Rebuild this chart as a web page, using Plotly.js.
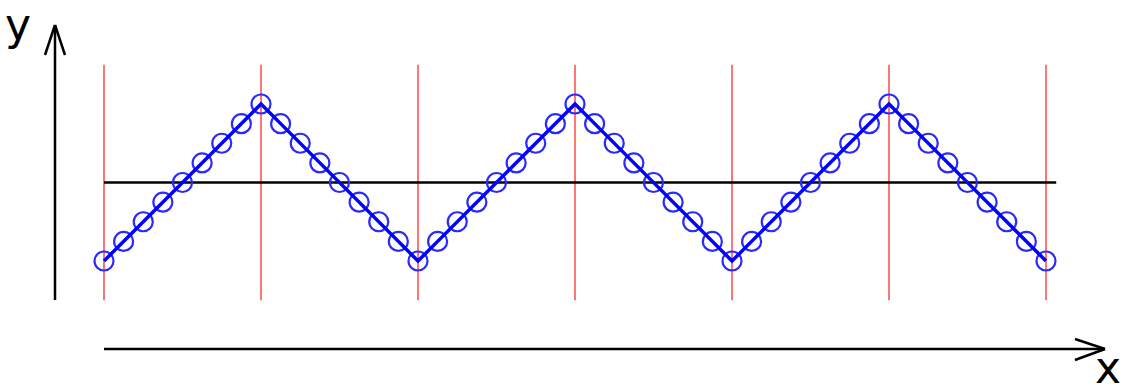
<!DOCTYPE html>
<html>
<head>
<meta charset="utf-8">
<script src="https://cdn.plot.ly/plotly-3.0.1.min.js"></script>
<style>html,body{margin:0;padding:0;background:#fff;}#chart{width:1123px;height:389px;}</style>
</head>
<body>
<div id="chart"></div>
<script>
// Sample positions and triangle-wave values
var xValues = [0,0.125,0.25,0.375,0.5,0.625,0.75,0.875,1,
  1.125,1.25,1.375,1.5,1.625,1.75,1.875,2,
  2.125,2.25,2.375,2.5,2.625,2.75,2.875,3,
  3.125,3.25,3.375,3.5,3.625,3.75,3.875,4,
  4.125,4.25,4.375,4.5,4.625,4.75,4.875,5,
  5.125,5.25,5.375,5.5,5.625,5.75,5.875,6];
var yValues = [-1,-0.75,-0.5,-0.25,0,0.25,0.5,0.75,1,
  0.75,0.5,0.25,0,-0.25,-0.5,-0.75,-1,
  -0.75,-0.5,-0.25,0,0.25,0.5,0.75,1,
  0.75,0.5,0.25,0,-0.25,-0.5,-0.75,-1,
  -0.75,-0.5,-0.25,0,0.25,0.5,0.75,1,
  0.75,0.5,0.25,0,-0.25,-0.5,-0.75,-1];
var gridX = [0,1,2,3,4,5,6];
var gridYRange = [-1.5, 1.5];
var meanLevel = 0;
var meanXRange = [0, 6.065];

// pixel -> data helpers for decorative arrows (axis ranges chosen to fill window)
var xr = [-104/157, (1123-104)/157];
var yr = [(182.5-389)/78.5, 182.5/78.5];
function px(x){return (x-104)/157;}
function py(y){return (182.5-y)/78.5;}

var shapes = [];
gridX.forEach(function(gx){
  shapes.push({type:'line', xref:'x', yref:'y', x0:gx, x1:gx, y0:gridYRange[0], y1:gridYRange[1],
    line:{color:'#ff1a1a', width:1.2}, layer:'below'});
});
shapes.push({type:'line', xref:'x', yref:'y', x0:meanXRange[0], x1:meanXRange[1], y0:meanLevel, y1:meanLevel,
  line:{color:'#000', width:2.5}, layer:'below'});
// y arrow
var blk = {color:'#000', width:2.5};
shapes.push({type:'line', x0:px(55), x1:px(55), y0:py(300), y1:py(25), line:blk});
shapes.push({type:'line', x0:px(45), x1:px(55), y0:py(55), y1:py(25), line:blk});
shapes.push({type:'line', x0:px(65), x1:px(55), y0:py(55), y1:py(25), line:blk});
// x arrow
shapes.push({type:'line', x0:px(104), x1:px(1105), y0:py(349), y1:py(349), line:blk});
shapes.push({type:'line', x0:px(1075), x1:px(1105), y0:py(339), y1:py(349), line:blk});
shapes.push({type:'line', x0:px(1075), x1:px(1105), y0:py(360), y1:py(349), line:blk});

var traces = [
  {x:xValues, y:yValues, mode:'markers', type:'scatter',
   marker:{symbol:'circle-open', size:19, color:'#2a2aff', line:{width:2.2, color:'#2a2aff'}},
   hoverinfo:'skip'},
  {x:xValues, y:yValues, mode:'lines', type:'scatter',
   line:{color:'#0000ff', width:3.5}, hoverinfo:'skip'}
];

var layout = {
  width:1123, height:389,
  margin:{l:0,r:0,t:0,b:0},
  paper_bgcolor:'#fff', plot_bgcolor:'#fff',
  showlegend:false,
  xaxis:{range:xr, visible:false, fixedrange:true},
  yaxis:{range:yr, visible:false, fixedrange:true},
  shapes:shapes,
  annotations:[
    {text:'y', xref:'x', yref:'y', x:px(18), y:py(24), showarrow:false,
     font:{family:'DejaVu Sans', size:44, color:'#000'}},
    {text:'x', xref:'x', yref:'y', x:px(1108), y:py(367), showarrow:false,
     font:{family:'DejaVu Sans', size:44, color:'#000'}}
  ]
};

Plotly.newPlot('chart', traces, layout, {staticPlot:true, displayModeBar:false});
</script>
</body>
</html>
